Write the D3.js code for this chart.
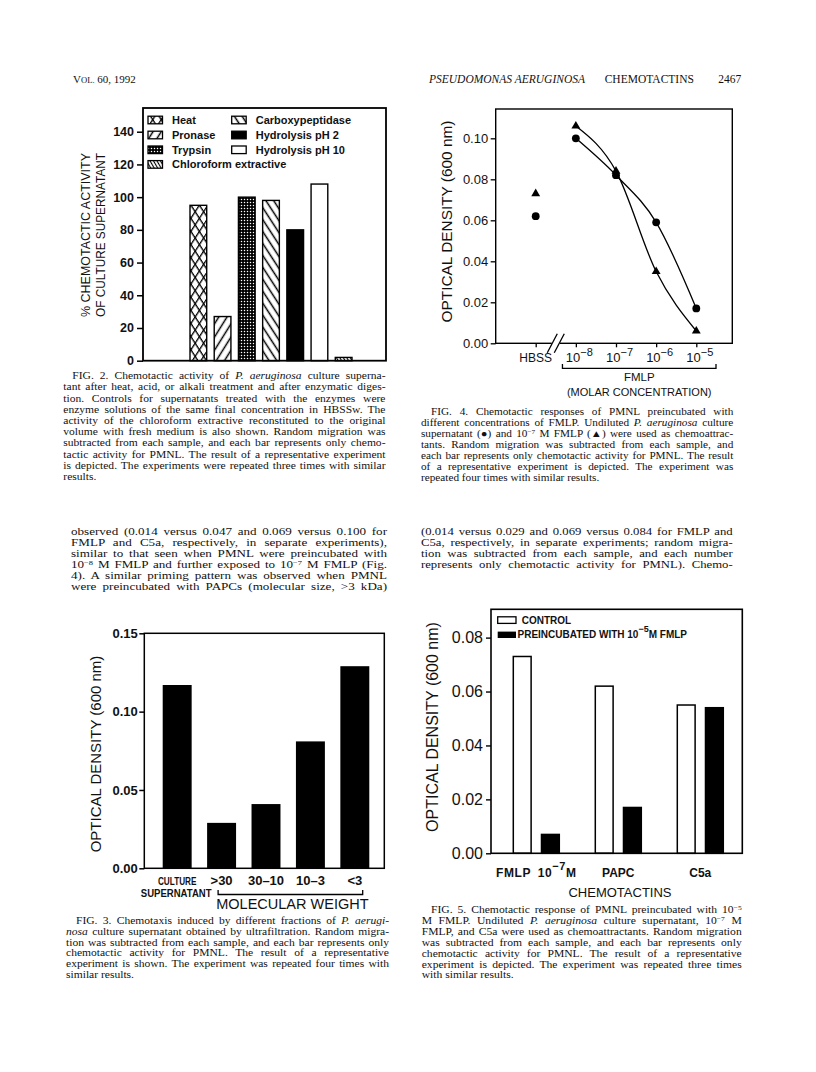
<!DOCTYPE html>
<html><head><meta charset="utf-8">
<script src="https://cdn.jsdelivr.net/npm/d3@7"></script>
<style>body{margin:0;background:#fff}svg{display:block}</style>
</head><body>
<svg id="page" width="816" height="1072"></svg>
<script>
// ---------------- DATA ----------------
const fig2Categories = ["Heat","Pronase","Trypsin","Carboxypeptidase","Hydrolysis pH 2","Hydrolysis pH 10","Chloroform extractive"];
const fig2Values = [95, 27, 100, 98, 80, 108, 2];
const fig2Ticks = [0, 20, 40, 60, 80, 100, 120, 140];

const fig3Categories = ["CULTURE", ">30", "30\u201310", "10\u20133", "<3"];
const fig3Values = [0.117, 0.029, 0.041, 0.081, 0.129];
const fig3Ticks = [0, 0.05, 0.10, 0.15];

const fig4Concentrations = ["HBSS", "-8", "-7", "-6", "-5"];
const fig4Supernatant = [0.062, 0.100, 0.082, 0.059, 0.017];
const fig4FMLP = [0.073, 0.106, 0.084, 0.035, 0.006];
const fig4Ticks = [0, 0.02, 0.04, 0.06, 0.08, 0.10];

const fig5Groups = ["FMLP", "PAPC", "C5a"];
const fig5Series = ["CONTROL", "PREINCUBATED"];
const fig5Control = [0.073, 0.062, 0.055];
const fig5Preincubated = [0.007, 0.017, 0.054];
const fig5Ticks = [0, 0.02, 0.04, 0.06, 0.08];

const fig2Caption = [
"FIG. 2. Chemotactic activity of *P. aeruginosa* culture superna-",
"tant after heat, acid, or alkali treatment and after enzymatic diges-",
"tion. Controls for supernatants treated with the enzymes were",
"enzyme solutions of the same final concentration in HBSSw. The",
"activity of the chloroform extractive reconstituted to the original",
"volume with fresh medium is also shown. Random migration was",
"subtracted from each sample, and each bar represents only chemo-",
"tactic activity for PMNL. The result of a representative experiment",
"is depicted. The experiments were repeated three times with similar",
"results."];
const fig4Caption = [
"FIG. 4. Chemotactic responses of PMNL preincubated with",
"different concentrations of FMLP. Undiluted *P. aeruginosa* culture",
"supernatant (\u25CF) and 10^{\u22127} M FMLP (\u25B2) were used as chemoattrac-",
"tants. Random migration was subtracted from each sample, and",
"each bar represents only chemotactic activity for PMNL. The result",
"of a representative experiment is depicted. The experiment was",
"repeated four times with similar results."];
const bodyLeft = [
"observed (0.014 versus 0.047 and 0.069 versus 0.100 for",
"FMLP and C5a, respectively, in separate experiments),",
"similar to that seen when PMNL were preincubated with",
"10^{\u22128} M FMLP and further exposed to 10^{\u22127} M FMLP (Fig.",
"4). A similar priming pattern was observed when PMNL",
"were preincubated with PAPCs (molecular size, >3 kDa)"];
const bodyRight = [
"(0.014 versus 0.029 and 0.069 versus 0.084 for FMLP and",
"C5a, respectively, in separate experiments; random migra-",
"tion was subtracted from each sample, and each number",
"represents only chemotactic activity for PMNL). Chemo-"];
const fig3Caption = [
"FIG. 3. Chemotaxis induced by different fractions of *P. aerugi-*",
"*nosa* culture supernatant obtained by ultrafiltration. Random migra-",
"tion was subtracted from each sample, and each bar represents only",
"chemotactic activity for PMNL. The result of a representative",
"experiment is shown. The experiment was repeated four times with",
"similar results."];
const fig5Caption = [
"FIG. 5. Chemotactic response of PMNL preincubated with 10^{\u22125}",
"M FMLP. Undiluted *P. aeruginosa* culture supernatant, 10^{\u22127} M",
"FMLP, and C5a were used as chemoattractants. Random migration",
"was subtracted from each sample, and each bar represents only",
"chemotactic activity for PMNL. The result of a representative",
"experiment is depicted. The experiment was repeated three times",
"with similar results."];

// ---------------- SETUP ----------------
const SANS = "'Liberation Sans', Arial, Helvetica, sans-serif";
const SERIF = "'Liberation Serif', 'Times New Roman', serif";
const svg = d3.select("#page");
svg.append("rect").attr("width", 816).attr("height", 1072).attr("fill", "#fff");
const defs = svg.append("defs");

function parseSegs(str) {
  return str.split(/(\*[^*]+\*|\^\{[^}]+\})/).filter(s => s.length).map(s => {
    if (s[0] === "*") return {t: s.slice(1, -1), it: true};
    if (s[0] === "^") return {t: s.slice(2, -1), sup: true};
    return {t: s};
  });
}
function richText(g, str, size, family) {
  const t = g.append("text").attr("x", 0).attr("y", 0)
    .attr("font-size", size).attr("font-family", family).attr("fill", "#111");
  let raised = false;
  parseSegs(str).forEach(s => {
    const ts = t.append("tspan").text(s.t);
    if (s.it) ts.attr("font-style", "italic");
    if (s.sup) {
      ts.attr("font-size", size * 0.65).attr("dy", -size * 0.3);
      raised = true;
    } else if (raised) {
      ts.attr("dy", size * 0.3);
      raised = false;
    }
  });
  return t;
}
// Justified column text: glyph height fixed by the line spacing, glyphs widened
// horizontally so the lines fill the column like the scanned typeface does.
function paragraph(lines, x0, x1, y0, step, indent, lastJustify, size, fill) {
  const g = svg.append("g");
  const isJ = i => i < lines.length - 1 || lastJustify;
  const xs = lines.map((ln, i) => i === 0 ? x0 + indent : x0);
  let ratio = Infinity;
  lines.forEach((ln, i) => {
    if (!isJ(i)) return;
    const t = richText(g, ln, size, SERIF);
    ratio = Math.min(ratio, (x1 - xs[i]) / t.node().getComputedTextLength());
    t.remove();
  });
  const sx = Math.max(1, ratio * (fill || 0.97));
  lines.forEach((ln, i) => {
    const lg = g.append("g").attr("transform", `translate(${xs[i]},${y0 + i * step}) scale(${sx},1)`);
    const t = richText(lg, ln, size, SERIF);
    if (isJ(i)) {
      const nat = t.node().getComputedTextLength();
      const plain = ln.replace(/\*|\^\{|\}/g, "");
      const spaces = (plain.match(/ /g) || []).length;
      if (spaces > 0) t.attr("word-spacing", ((x1 - xs[i]) / sx - nat) / spaces);
    }
  });
}

// ---------------- HEADER ----------------
const hdr = svg.append("text").attr("x", 73).attr("y", 83).attr("font-family", SERIF).attr("font-size", 11).attr("fill", "#111");
hdr.append("tspan").text("V");
hdr.append("tspan").attr("font-size", 8.6).text("OL.");
hdr.append("tspan").text(" 60, 1992");
svg.append("text").attr("x", 429).attr("y", 83).attr("font-family", SERIF).attr("font-size", 11.5)
  .attr("font-style", "italic").attr("fill", "#111").text("PSEUDOMONAS AERUGINOSA");
svg.append("text").attr("x", 604.7).attr("y", 83).attr("font-family", SERIF).attr("font-size", 11.5)
  .attr("fill", "#111").text("CHEMOTACTINS");
svg.append("text").attr("x", 741.3).attr("y", 83).attr("font-family", SERIF).attr("font-size", 11.5)
  .attr("text-anchor", "end").attr("fill", "#111").text("2467");

// ---------------- PATTERNS (Fig. 2) ----------------
function linePattern(id, spacing, angle, sw, bg) {
  const p = defs.append("pattern").attr("id", id).attr("patternUnits", "userSpaceOnUse")
    .attr("width", spacing).attr("height", 20).attr("patternTransform", `rotate(${angle})`);
  p.append("rect").attr("width", spacing).attr("height", 20).attr("fill", bg || "#fff");
  p.append("line").attr("x1", spacing / 2).attr("x2", spacing / 2).attr("y1", 0).attr("y2", 20)
    .attr("stroke", "#000").attr("stroke-width", sw);
}
(function () {
  const p = defs.append("pattern").attr("id", "pat0").attr("patternUnits", "userSpaceOnUse")
    .attr("width", 6).attr("height", 6).attr("patternTransform", "scale(1,1.55) rotate(45)");
  p.append("rect").attr("width", 6).attr("height", 6).attr("fill", "#fff");
  p.append("path").attr("d", "M0,0.5H6M0.5,0V6").attr("stroke", "#000").attr("stroke-width", 1.2);
})();
linePattern("pat1", 7, 32, 1.5);
(function () {
  const p = defs.append("pattern").attr("id", "pat2").attr("patternUnits", "userSpaceOnUse")
    .attr("width", 3).attr("height", 3);
  p.append("rect").attr("width", 3).attr("height", 3).attr("fill", "#000");
  p.append("circle").attr("cx", 1.5).attr("cy", 1.5).attr("r", 0.75).attr("fill", "#fff");
})();
linePattern("pat3", 6.5, -33, 1.5);
defs.append("pattern").attr("id", "pat4").attr("patternUnits", "userSpaceOnUse").attr("width", 4).attr("height", 4)
  .append("rect").attr("width", 4).attr("height", 4).attr("fill", "#000");
defs.append("pattern").attr("id", "pat5").attr("patternUnits", "userSpaceOnUse").attr("width", 4).attr("height", 4)
  .append("rect").attr("width", 4).attr("height", 4).attr("fill", "#fff");
linePattern("pat6", 3, -30, 1.1);

// ---------------- FIG. 2 ----------------
(function () {
  const L = 143, R = 386, T = 108, B = 360.7;
  const g = svg.append("g");
  const x = d3.scaleBand().domain(fig2Categories).range([190, 352]).paddingInner(0.31).paddingOuter(0);
  const y = d3.scaleLinear().domain([0, 154.5]).range([B, T]);
  g.selectAll("rect.bar").data(fig2Values).join("rect").attr("class", "bar")
    .attr("x", (d, i) => x(fig2Categories[i])).attr("width", x.bandwidth())
    .attr("y", d => y(d)).attr("height", d => B - y(d))
    .attr("fill", (d, i) => `url(#pat${i})`).attr("stroke", "#000").attr("stroke-width", 1.4);
  g.append("rect").attr("x", L).attr("y", T).attr("width", R - L).attr("height", B - T)
    .attr("fill", "none").attr("stroke", "#000").attr("stroke-width", 1.8);
  const ax = g.append("g").attr("transform", `translate(${L},0)`)
    .call(d3.axisLeft(y).tickValues(fig2Ticks).tickSize(6).tickPadding(3).tickFormat(d3.format("d")));
  ax.select(".domain").remove();
  ax.selectAll("line").attr("stroke-width", 1.5);
  ax.selectAll("text").attr("font-family", SANS).attr("font-size", 12.5).attr("font-weight", "bold").attr("fill", "#111");
  // legend
  const slots = [[0, 0], [0, 1], [0, 2], [1, 0], [1, 1], [1, 2], [0, 3]];
  const colX = [148, 231.7], rowY = [120, 135, 149.8, 164.4];
  fig2Categories.forEach((c, i) => {
    const [cx, ry] = slots[i];
    g.append("rect").attr("x", colX[cx]).attr("y", rowY[ry] - 3.8).attr("width", 14.5).attr("height", 7.6)
      .attr("fill", `url(#pat${i})`).attr("stroke", "#000").attr("stroke-width", 1.3);
    g.append("text").attr("x", colX[cx] + 24).attr("y", rowY[ry] + 4).attr("font-family", SANS)
      .attr("font-size", 11).attr("font-weight", "bold").attr("fill", "#111").text(c);
  });
  // y label
  [["% CHEMOTACTIC ACTIVITY", 90], ["OF CULTURE SUPERNATANT", 105]].forEach(([s, bx]) => {
    g.append("text").attr("transform", `translate(${bx},235) rotate(-90)`).attr("text-anchor", "middle")
      .attr("font-family", SANS).attr("font-size", 13.5).attr("textLength", 164).attr("lengthAdjust", "spacingAndGlyphs")
      .attr("fill", "#111").text(s);
  });
})();
paragraph(fig2Caption, 63.3, 385.5, 379.2, 11.2, 9, false, 10);

// ---------------- FIG. 4 ----------------
(function () {
  const L = 495.7, R = 732.3, T = 109, B = 343.3;
  const g = svg.append("g");
  const x = d3.scalePoint().domain(fig4Concentrations).range([535.7, 696.3]);
  const y = d3.scaleLinear().domain([0, 0.1143]).range([B, T]);
  g.append("rect").attr("x", L).attr("y", T).attr("width", R - L).attr("height", B - T)
    .attr("fill", "none").attr("stroke", "#000").attr("stroke-width", 1.4);
  const ay = g.append("g").attr("transform", `translate(${L},0)`)
    .call(d3.axisLeft(y).tickValues(fig4Ticks).tickSize(5).tickPadding(2.5).tickFormat(d3.format(".2f")));
  ay.select(".domain").remove();
  ay.selectAll("line").attr("stroke-width", 1.3);
  ay.selectAll("text").attr("font-family", SANS).attr("font-size", 13).attr("fill", "#111");
  const axb = g.append("g").attr("transform", `translate(0,${B})`)
    .call(d3.axisBottom(x).tickSize(4).tickFormat(""));
  axb.select(".domain").remove();
  axb.selectAll("line").attr("stroke-width", 1.3);
  // axis break
  const mid = (x(fig4Concentrations[0]) + x(fig4Concentrations[1])) / 2;
  g.append("rect").attr("x", mid - 4).attr("y", B - 2).attr("width", 8).attr("height", 4).attr("fill", "#fff");
  [-3.5, 3.5].forEach(o => g.append("line").attr("x1", mid + o - 5).attr("y1", B + 9.5)
    .attr("x2", mid + o + 5).attr("y2", B - 9.5).attr("stroke", "#000").attr("stroke-width", 1.3));
  // x labels
  fig4Concentrations.forEach((c, i) => {
    if (i === 0) {
      g.append("text").attr("x", x(c)).attr("y", 361.7).attr("text-anchor", "middle")
        .attr("font-family", SANS).attr("font-size", 12).attr("fill", "#111").text(c);
    } else {
      const t = g.append("text").attr("x", x(c) - 10).attr("y", 361.7)
        .attr("font-family", SANS).attr("font-size", 13).attr("fill", "#111");
      t.append("tspan").text("10");
      t.append("tspan").attr("dy", -6).attr("font-size", 11).text("\u2212" + c.slice(1));
    }
  });
  const bx0 = x(fig4Concentrations[1]) - 13.4, bx1 = x(fig4Concentrations[4]) + 19.7;
  g.append("path").attr("d", `M${bx0},364V368.3H${bx1}V364`).attr("fill", "none").attr("stroke", "#000").attr("stroke-width", 1.3);
  g.append("text").attr("x", (bx0 + bx1) / 2).attr("y", 381).attr("text-anchor", "middle")
    .attr("font-family", SANS).attr("font-size", 11.5).attr("fill", "#111").text("FMLP");
  g.append("text").attr("x", (bx0 + bx1) / 2).attr("y", 396).attr("text-anchor", "middle")
    .attr("font-family", SANS).attr("font-size", 11).attr("fill", "#111").text("(MOLAR CONCENTRATION)");
  // y label
  g.append("text").attr("transform", "translate(451.5,221.5) rotate(-90)").attr("text-anchor", "middle")
    .attr("font-family", SANS).attr("font-size", 15.4).attr("fill", "#111").text("OPTICAL DENSITY (600 nm)");
  // curves (FMLP concentrations only)
  const line = d3.line().x(d => x(d[0])).y(d => y(d[1])).curve(d3.curveMonotoneX);
  [fig4Supernatant, fig4FMLP].forEach(vals => {
    const pts = fig4Concentrations.map((c, i) => [c, vals[i]]).slice(1);
    g.append("path").attr("d", line(pts)).attr("fill", "none").attr("stroke", "#000").attr("stroke-width", 1.3);
  });
  g.selectAll("circle.pt").data(fig4Supernatant).join("circle").attr("class", "pt")
    .attr("cx", (d, i) => x(fig4Concentrations[i])).attr("cy", d => y(d)).attr("r", 3.9).attr("fill", "#000");
  const tri = d3.symbol().type(d3.symbolTriangle).size(34);
  g.selectAll("path.tri").data(fig4FMLP).join("path").attr("class", "tri")
    .attr("transform", (d, i) => `translate(${x(fig4Concentrations[i])},${y(d)})`).attr("d", tri).attr("fill", "#000");
})();
paragraph(fig4Caption, 421, 733.3, 414.7, 11, 10, false, 10);

// ---------------- BODY TEXT ----------------
paragraph(bodyLeft, 71, 387, 535.3, 10.9, 0, true, 10.2, 0.95);
paragraph(bodyRight, 421, 732.7, 535.3, 10.9, 0, true, 10.2, 0.95);

// ---------------- FIG. 3 ----------------
(function () {
  const L = 144.3, R = 384.3, T = 633.3, B = 868.3;
  const g = svg.append("g");
  const x = d3.scaleBand().domain(fig3Categories).range([162.7, 369.3]).paddingInner(0.348).paddingOuter(0);
  const y = d3.scaleLinear().domain([0, 0.15]).range([B, T]);
  g.selectAll("rect.bar").data(fig3Values).join("rect").attr("class", "bar")
    .attr("x", (d, i) => x(fig3Categories[i])).attr("width", x.bandwidth())
    .attr("y", d => y(d)).attr("height", d => B - y(d)).attr("fill", "#000");
  g.append("rect").attr("x", L).attr("y", T).attr("width", R - L).attr("height", B - T)
    .attr("fill", "none").attr("stroke", "#000").attr("stroke-width", 1.5);
  const ay = g.append("g").attr("transform", `translate(${L},0)`)
    .call(d3.axisLeft(y).tickValues(fig3Ticks).tickSize(5).tickPadding(1.5).tickFormat(d3.format(".2f")));
  ay.select(".domain").remove();
  ay.selectAll("line").attr("stroke-width", 1.5);
  ay.selectAll("text").attr("font-family", SANS).attr("font-size", 13).attr("font-weight", "bold").attr("fill", "#111");
  fig3Categories.forEach((c, i) => {
    const cx = x(c) + x.bandwidth() / 2;
    if (i === 0) {
      g.append("text").attr("x", cx).attr("y", 885).attr("text-anchor", "middle").attr("font-family", SANS)
        .attr("font-size", 10.5).attr("font-weight", "bold").attr("textLength", 38.5).attr("lengthAdjust", "spacingAndGlyphs")
        .attr("fill", "#111").text(c);
      g.append("text").attr("x", cx - 1).attr("y", 896.7).attr("text-anchor", "middle").attr("font-family", SANS)
        .attr("font-size", 10.5).attr("font-weight", "bold").attr("textLength", 70.7).attr("lengthAdjust", "spacingAndGlyphs")
        .attr("fill", "#111").text("SUPERNATANT");
    } else {
      g.append("text").attr("x", cx).attr("y", 885).attr("text-anchor", "middle").attr("font-family", SANS)
        .attr("font-size", 13).attr("font-weight", "bold").attr("fill", "#111").text(c);
    }
  });
  const bx0 = x(fig3Categories[1]) + 11, bx1 = x(fig3Categories[4]) + x.bandwidth() - 6.6;
  g.append("path").attr("d", `M${bx0},890V894.5H${bx1}V890`).attr("fill", "none").attr("stroke", "#000").attr("stroke-width", 1.3);
  g.append("text").attr("x", (bx0 + bx1) / 2 + 2).attr("y", 909).attr("text-anchor", "middle").attr("font-family", SANS)
    .attr("font-size", 14.5).attr("fill", "#111").text("MOLECULAR WEIGHT");
  g.append("text").attr("transform", "translate(100.5,754) rotate(-90)").attr("text-anchor", "middle")
    .attr("font-family", SANS).attr("font-size", 15).attr("fill", "#111").text("OPTICAL DENSITY (600 nm)");
})();
paragraph(fig3Caption, 66, 389, 923.7, 10.92, 10, false, 10);

// ---------------- FIG. 5 ----------------
(function () {
  const L = 491, R = 742.3, T = 609.3, B = 853.3;
  const g = svg.append("g");
  const x0 = d3.scaleBand().domain(fig5Groups).range([513.3, 723.3]).paddingInner(0.439).paddingOuter(0);
  const x1 = d3.scaleBand().domain(fig5Series).range([0, x0.bandwidth()]).paddingInner(0.368).paddingOuter(0);
  const y = d3.scaleLinear().domain([0, 0.0905]).range([B, T]);
  const rows = fig5Groups.map((gname, i) => ({g: gname, v: [fig5Control[i], fig5Preincubated[i]]}));
  rows.forEach(r => {
    r.v.forEach((v, j) => {
      g.append("rect").attr("x", x0(r.g) + x1(fig5Series[j])).attr("width", x1.bandwidth())
        .attr("y", y(v)).attr("height", B - y(v))
        .attr("fill", j === 0 ? "#fff" : "#000").attr("stroke", "#000").attr("stroke-width", 1.5);
    });
  });
  g.append("rect").attr("x", L).attr("y", T).attr("width", R - L).attr("height", B - T)
    .attr("fill", "none").attr("stroke", "#000").attr("stroke-width", 1.6);
  const ay = g.append("g").attr("transform", `translate(${L},0)`)
    .call(d3.axisLeft(y).tickValues(fig5Ticks).tickSize(5).tickPadding(3).tickFormat(d3.format(".2f")));
  ay.select(".domain").remove();
  ay.selectAll("line").attr("stroke-width", 1.4);
  ay.selectAll("text").attr("font-family", SANS).attr("font-size", 16).attr("fill", "#111");
  // legend
  g.append("rect").attr("x", 497.7).attr("y", 616.8).attr("width", 18.3).attr("height", 6.6)
    .attr("fill", "#fff").attr("stroke", "#000").attr("stroke-width", 1.3);
  g.append("text").attr("x", 521.7).attr("y", 623.8).attr("font-family", SANS).attr("font-size", 10)
    .attr("font-weight", "bold").attr("fill", "#111").text("CONTROL");
  g.append("rect").attr("x", 497.7).attr("y", 631.6).attr("width", 18.3).attr("height", 6.4).attr("fill", "#000");
  const lt = g.append("text").attr("x", 517.5).attr("y", 638).attr("font-family", SANS).attr("font-size", 10)
    .attr("font-weight", "bold").attr("fill", "#111");
  lt.append("tspan").text("PREINCUBATED WITH 10");
  lt.append("tspan").attr("dy", -6).attr("font-size", 9).text("\u22125");
  lt.append("tspan").attr("dy", 6).text("M FMLP");
  // x labels
  fig5Groups.forEach((gname, i) => {
    const cx = x0(gname) + x0.bandwidth() / 2;
    const t = g.append("text").attr("x", cx).attr("y", 877.3).attr("text-anchor", "middle").attr("font-family", SANS)
      .attr("font-size", 12).attr("font-weight", "bold").attr("fill", "#111");
    if (i === 0) {
      t.attr("word-spacing", 3).attr("letter-spacing", 0.6);
      t.append("tspan").text(gname + " 10");
      t.append("tspan").attr("dy", -7).attr("font-size", 11).text("\u22127");
      t.append("tspan").attr("dy", 7).text("M");
    } else {
      t.text(gname);
    }
  });
  g.append("text").attr("x", 620).attr("y", 896.7).attr("text-anchor", "middle").attr("font-family", SANS)
    .attr("font-size", 13).attr("fill", "#111").text("CHEMOTACTINS");
  g.append("text").attr("transform", "translate(437.5,727) rotate(-90)").attr("text-anchor", "middle")
    .attr("font-family", SANS).attr("font-size", 16).attr("fill", "#111").text("OPTICAL DENSITY (600 nm)");
})();
paragraph(fig5Caption, 421.7, 741.7, 913, 10.9, 9.3, false, 10);
</script>
</body></html>
